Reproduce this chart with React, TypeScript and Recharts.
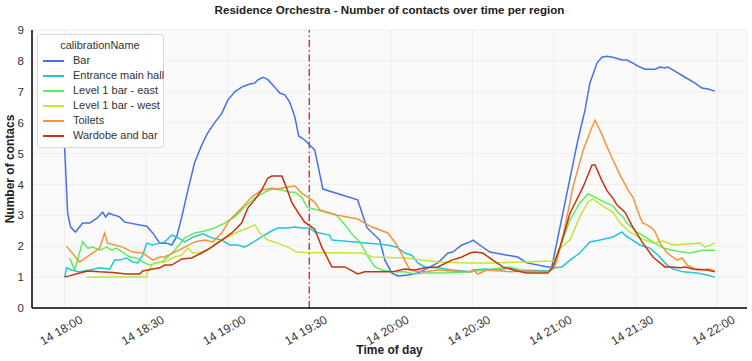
import { LineChart, Line, XAxis, YAxis, CartesianGrid, ReferenceLine, Legend } from 'recharts';

// minutes after 18:00 on the 14th
const xTicks = [0, 30, 60, 90, 120, 150, 180, 210, 240];
const xTickLabels = ['14 18:00', '14 18:30', '14 19:00', '14 19:30', '14 20:00', '14 20:30', '14 21:00', '14 21:30', '14 22:00'];
const yTicks = [0, 1, 2, 3, 4, 5, 6, 7, 8, 9];
const markerMinute = 90; // 19:30

// [minute, contacts]
const bar: [number, number][] = [
  [0, 5.2], [1.1, 3.07], [2.2, 2.62], [4, 2.46], [5.5, 2.62], [6.6, 2.75], [9.2, 2.75], [11.8, 2.9], [14, 3.1],
  [15.1, 2.95], [16.2, 3.07], [18.4, 3.0], [20.2, 2.95], [22.1, 2.78], [30.2, 2.65], [32.4, 2.43], [35, 2.1],
  [37.5, 2.1], [39.4, 2.04], [41.2, 2.3], [43.1, 2.95], [45.3, 3.8], [47.8, 4.7], [50.4, 5.27], [52.6, 5.66],
  [55.2, 6.0], [57.8, 6.3], [60, 6.73], [62.6, 7.0], [65.1, 7.15], [68.1, 7.25], [69.9, 7.28], [71, 7.38],
  [72.9, 7.47], [74.7, 7.4], [77.3, 7.15], [79.1, 6.96], [81, 6.9], [82.8, 6.67], [84.7, 6.18], [86.1, 5.57],
  [88.3, 5.44], [90.2, 5.27], [92, 5.12], [95, 3.85], [107.8, 3.5], [111.2, 2.6], [115.9, 2.2], [117.8, 1.55],
  [120.4, 1.13], [122.6, 1.04], [126.2, 1.07], [129.9, 1.13], [133.6, 1.3], [137.3, 1.46], [141, 1.78],
  [142.8, 1.81], [146.1, 2.04], [149.1, 2.14], [150.2, 2.2], [152.7, 2.04], [156.4, 1.81], [166.7, 1.65],
  [170, 1.46], [177.8, 1.33], [179.2, 1.33], [188.8, 5.44], [191.4, 6.4], [193.2, 7.28], [195.8, 7.93],
  [197.6, 8.12], [199.5, 8.15], [201.7, 8.12], [205, 8.03], [206.8, 8.03], [209, 7.93], [210.9, 7.83],
  [213.5, 7.73], [217.2, 7.73], [219, 7.8], [220.8, 7.77], [221.9, 7.8], [224.5, 7.67], [228.2, 7.47],
  [231.9, 7.28], [234.4, 7.12], [236.7, 7.09], [239.2, 7.02],
];

const entrance: [number, number][] = [
  [0, 1.0], [0.7, 1.3], [2.6, 1.23], [5.5, 1.17], [9.2, 1.23], [12.9, 1.3], [16.6, 1.26], [18.4, 1.55],
  [20.2, 1.55], [22.8, 1.62], [25, 1.49], [26.9, 1.46], [28.7, 1.71], [30.2, 2.1], [32.4, 2.04], [35, 2.1],
  [36.8, 2.14], [39.4, 2.36], [41.2, 2.3], [44.2, 2.14], [46.7, 2.27], [50.8, 2.4], [54.1, 2.27], [57.8, 2.2],
  [60.7, 2.04], [63.7, 2.04], [66.2, 1.97], [68.8, 2.1], [72.5, 2.3], [75.4, 2.46], [78.4, 2.59], [82.1, 2.59],
  [84.7, 2.62], [87.2, 2.59], [90.2, 2.59], [92, 2.46], [97.5, 2.36], [98.3, 2.2], [106.7, 2.14], [118.9, 2.04],
  [122.2, 1.97], [125.1, 1.78], [127.7, 1.71], [129.9, 1.46], [132.5, 1.33], [137.3, 1.3], [142.4, 1.23],
  [149.1, 1.17], [150.2, 1.23], [154.6, 1.26], [160.1, 1.23], [163.8, 1.3], [167.5, 1.23], [178.5, 1.2],
  [180.3, 1.3], [182.9, 1.33], [185.9, 1.55], [189.5, 1.78], [193.2, 2.14], [196.9, 2.2], [201.7, 2.3],
  [205, 2.46], [206.1, 2.36], [211.6, 2.04], [215.3, 1.94], [218.3, 1.71], [221.6, 1.39], [223.8, 1.26],
  [227.5, 1.17], [232.6, 1.13], [236.3, 1.07], [239.2, 1.0],
];

const levelEast: [number, number][] = [
  [1.8, 1.62], [3.7, 1.23], [6.6, 2.14], [8.5, 1.94], [10.3, 1.97], [12.9, 1.87], [15.5, 1.97], [17.3, 1.87],
  [19.1, 1.94], [21.3, 1.81], [23.9, 1.65], [26.5, 1.62], [28.7, 1.49], [31.3, 1.39], [33.9, 1.46], [35.7, 1.49],
  [37.9, 1.65], [40.5, 1.87], [44.2, 2.27], [47.8, 2.43], [51.5, 2.49], [55.2, 2.59], [58.9, 2.75], [62.6, 2.95],
  [66.2, 3.27], [69.9, 3.56], [73.6, 3.75], [76.2, 3.85], [79.9, 3.82], [82.8, 3.75], [84.7, 3.75], [87.2, 3.59],
  [89.1, 3.27], [90.2, 3.24], [93.1, 3.17], [100.1, 3.0], [103.1, 2.69], [106, 2.36], [108.6, 2.14],
  [111.2, 1.71], [114.1, 1.33], [116.7, 1.23], [120.4, 1.17], [125.1, 1.17], [128.8, 1.1], [132.5, 1.13],
  [139.9, 1.13], [149.1, 1.17], [157.5, 1.26], [163.8, 1.33], [170, 1.17], [177.4, 1.17], [179.6, 1.33],
  [182.2, 1.97], [185.9, 2.85], [189.5, 3.4], [192.5, 3.69], [194.3, 3.62], [198, 3.45], [201.7, 3.3],
  [203.5, 3.1], [205.4, 2.95], [206.8, 2.75], [210.5, 2.46], [215.3, 2.2], [220.1, 1.94], [225.3, 1.84],
  [230, 1.78], [234.8, 1.87], [239.2, 1.87],
];

const levelWest: [number, number][] = [
  [8.1, 1.0], [30.2, 1.0], [30.5, 1.17], [32.9, 1.46], [35, 1.49], [36.8, 1.49], [40.5, 1.65], [43.1, 1.71],
  [45.3, 1.94], [47.1, 1.78], [48.9, 1.78], [52.6, 1.87], [56.3, 2.14], [60, 2.3], [63.7, 2.46], [67.4, 2.59],
  [69.9, 2.69], [71.8, 2.43], [74.7, 2.2], [78.4, 2.1], [82.1, 1.97], [85.4, 1.81], [88.3, 1.8], [109.3, 1.78],
  [113.4, 1.65], [125.1, 1.62], [137.3, 1.49], [149.1, 1.46], [157.5, 1.46], [170, 1.49], [179.2, 1.52],
  [181.1, 1.55], [182.2, 1.94], [185.9, 2.2], [189.5, 2.95], [192.5, 3.43], [194.3, 3.53], [198, 3.3],
  [201.7, 3.1], [204.3, 2.75], [207.9, 2.46], [211.6, 2.27], [216.4, 2.1], [220.1, 2.17], [223.8, 2.04],
  [229, 2.07], [233.7, 2.1], [235.6, 1.97], [239.2, 2.1],
];

const toilets: [number, number][] = [
  [0.7, 2.0], [5.5, 1.49], [9.2, 1.71], [12.9, 1.94], [14.7, 2.43], [15.8, 2.1], [18.4, 2.04], [21.3, 1.97],
  [25, 1.81], [28.7, 1.78], [31.3, 1.62], [32.4, 1.55], [35, 1.65], [36.8, 1.65], [40.5, 1.81], [44.2, 1.97],
  [47.8, 2.14], [51.5, 2.2], [54.5, 2.14], [57.8, 2.43], [60.7, 2.85], [64.4, 3.17], [68.8, 3.59], [72.5, 3.82],
  [76.2, 3.88], [78.4, 3.85], [82.1, 3.92], [84.7, 3.95], [87.2, 3.72], [89.4, 3.59], [92, 3.43], [93.9, 3.17],
  [100.5, 3.0], [107.8, 2.88], [113, 2.62], [118.9, 2.43], [122.2, 2.04], [125.1, 1.55], [127, 1.23],
  [128.8, 1.2], [132.5, 1.17], [137.3, 1.23], [142.4, 1.2], [149.1, 1.17], [150.2, 1.23], [152, 1.1],
  [155.3, 1.23], [163.8, 1.17], [170, 1.2], [177.8, 1.17], [180.3, 1.33], [183.3, 2.3], [187, 3.92],
  [190.7, 5.1], [194, 5.86], [195.1, 6.08], [196.9, 5.76], [200.6, 5.0], [204.3, 4.3], [207.9, 3.72],
  [209, 3.6], [211.6, 2.95], [212.7, 2.75], [214.2, 2.69], [216, 2.59], [217.2, 2.46], [219, 2.1],
  [221.6, 1.78], [225.3, 1.55], [227.1, 1.62], [229, 1.39], [232.6, 1.23], [237.4, 1.26], [239.2, 1.2],
];

const wardobe: [number, number][] = [
  [0, 1.0], [1.8, 1.04], [5.5, 1.13], [8.5, 1.2], [12.9, 1.17], [17.7, 1.15], [22.8, 1.1], [27.6, 1.1],
  [28.7, 1.2], [32.4, 1.26], [35, 1.3], [36.8, 1.39], [39.4, 1.39], [43.1, 1.59], [46.7, 1.62], [50.4, 1.78],
  [54.1, 1.97], [57.8, 2.2], [61.5, 2.43], [65.1, 2.75], [67.4, 3.24], [69.9, 3.5], [72.5, 3.82], [74.7, 4.2],
  [76.2, 4.27], [79.9, 4.27], [81.7, 3.88], [83.5, 3.43], [85.8, 3.1], [88.3, 2.78], [90.9, 2.62], [92, 2.55],
  [94.6, 1.97], [98.3, 1.33], [103.1, 1.33], [107.8, 1.1], [110.4, 1.17], [120.4, 1.17], [125.1, 1.26],
  [128.8, 1.23], [132.5, 1.3], [137.3, 1.33], [142.4, 1.55], [146.1, 1.65], [149.1, 1.78], [150.9, 1.81],
  [153.8, 1.78], [157.5, 1.55], [161.2, 1.33], [166.4, 1.2], [170, 1.13], [177.8, 1.13], [179.6, 1.33],
  [182.2, 1.97], [185.9, 3.07], [190.7, 3.92], [194, 4.63], [195.1, 4.63], [197.5, 4.15], [199.5, 3.8],
  [201.7, 3.55], [203.2, 3.33], [206.1, 3.1], [209, 2.62], [212.7, 2.1], [216.4, 1.65], [220.8, 1.33],
  [222.7, 1.33], [226.4, 1.3], [228.2, 1.33], [231.1, 1.26], [236.3, 1.23], [239.2, 1.17],
];

const series = [
  { name: 'Bar', color: '#4670e6', points: bar },
  { name: 'Entrance main hall', color: '#22c5d9', points: entrance },
  { name: 'Level 1 bar - east', color: '#5cee5e', points: levelEast },
  { name: 'Level 1 bar - west', color: '#c4e535', points: levelWest },
  { name: 'Toilets', color: '#f8923a', points: toilets },
  { name: 'Wardobe and bar', color: '#c7330f', points: wardobe },
];

const FONT = '"Liberation Sans", Arial, Helvetica, sans-serif';

const XTick = ({ x, y, payload }: any) => {
  const i = xTicks.indexOf(payload.value);
  const cx = x - 3;
  const cy = y + 15;
  return (
    <text x={cx} y={cy} textAnchor="middle" dominantBaseline="middle" fontSize={12} fill="#333"
      fontFamily={FONT} transform={`rotate(-30 ${cx} ${cy})`}>
      {xTickLabels[i]}
    </text>
  );
};

// legend drawn from the series list so every swatch keeps its line colour
const LegendBox = () => (
  <div style={{
    background: 'rgba(255,255,255,0.85)', border: '1px solid #d8d8d8', borderRadius: 3, textAlign: 'left',
    padding: '3px 6px 4px 5px', fontFamily: FONT, fontSize: 11, color: '#333', width: 114,
  }}>
    <div style={{ textAlign: 'center', lineHeight: '15px' }}>calibrationName</div>
    {series.map((s) => (
      <div key={s.name} style={{ position: 'relative', height: 15, lineHeight: '15px', whiteSpace: 'nowrap', paddingLeft: 30 }}>
        <span style={{ position: 'absolute', left: 0, top: 7, width: 21, height: 2, background: s.color }} />
        <span>{s.name}</span>
      </div>
    ))}
  </div>
);

export default function App() {
  return (
    <div style={{ position: 'absolute', left: 0, top: 0, width: 752, height: 361, background: '#fff', fontFamily: FONT }}>
      <div style={{ position: 'absolute', top: 3, left: 32, width: 715, textAlign: 'center', fontSize: 11.6, fontWeight: 'bold', color: '#222' }}>
        Residence Orchestra - Number of contacts over time per region
      </div>
      <LineChart width={752} height={361} margin={{ top: 30, right: 5, bottom: 23, left: 0 }}>
        <CartesianGrid fill="#fafafa" stroke="#ededed" strokeWidth={1} />
        <XAxis dataKey="t" type="number" domain={[-12, 251]} ticks={xTicks} allowDataOverflow
          height={30} tickLine={false} axisLine={{ stroke: '#000', strokeWidth: 1.5 }} tick={<XTick />} interval={0} />
        <YAxis type="number" domain={[0, 9]} ticks={yTicks} width={32} tickLine={false}
          axisLine={{ stroke: '#000', strokeWidth: 1.5 }} tick={{ fontSize: 11.5, fill: '#333', fontFamily: FONT }} interval={0} />
        <ReferenceLine x={markerMinute} stroke="#d0312d" strokeWidth={1.4} strokeDasharray="7 3 1.5 3" />
        {series.map((s) => (
          <Line key={s.name} name={s.name} data={s.points.map(([t, v]) => ({ t, v }))} dataKey="v"
            type="linear" stroke={s.color} strokeWidth={1.5} dot={false} isAnimationActive={false} />
        ))}
        <Legend layout="vertical" align="center" verticalAlign="middle" content={<LegendBox />}
          wrapperStyle={{ top: 34, left: 37, width: 'auto', height: 'auto' }} />
      </LineChart>
      <div style={{ position: 'absolute', top: 343, left: 32, width: 715, textAlign: 'center', fontSize: 12, fontWeight: 'bold', color: '#222' }}>
        Time of day
      </div>
      <div style={{ position: 'absolute', left: 10, top: 169, width: 0, height: 0 }}>
        <div style={{ position: 'absolute', transform: 'translate(-50%, -50%) rotate(-90deg)', whiteSpace: 'nowrap', fontSize: 12, fontWeight: 'bold', color: '#222' }}>
          Number of contacs
        </div>
      </div>
    </div>
  );
}
